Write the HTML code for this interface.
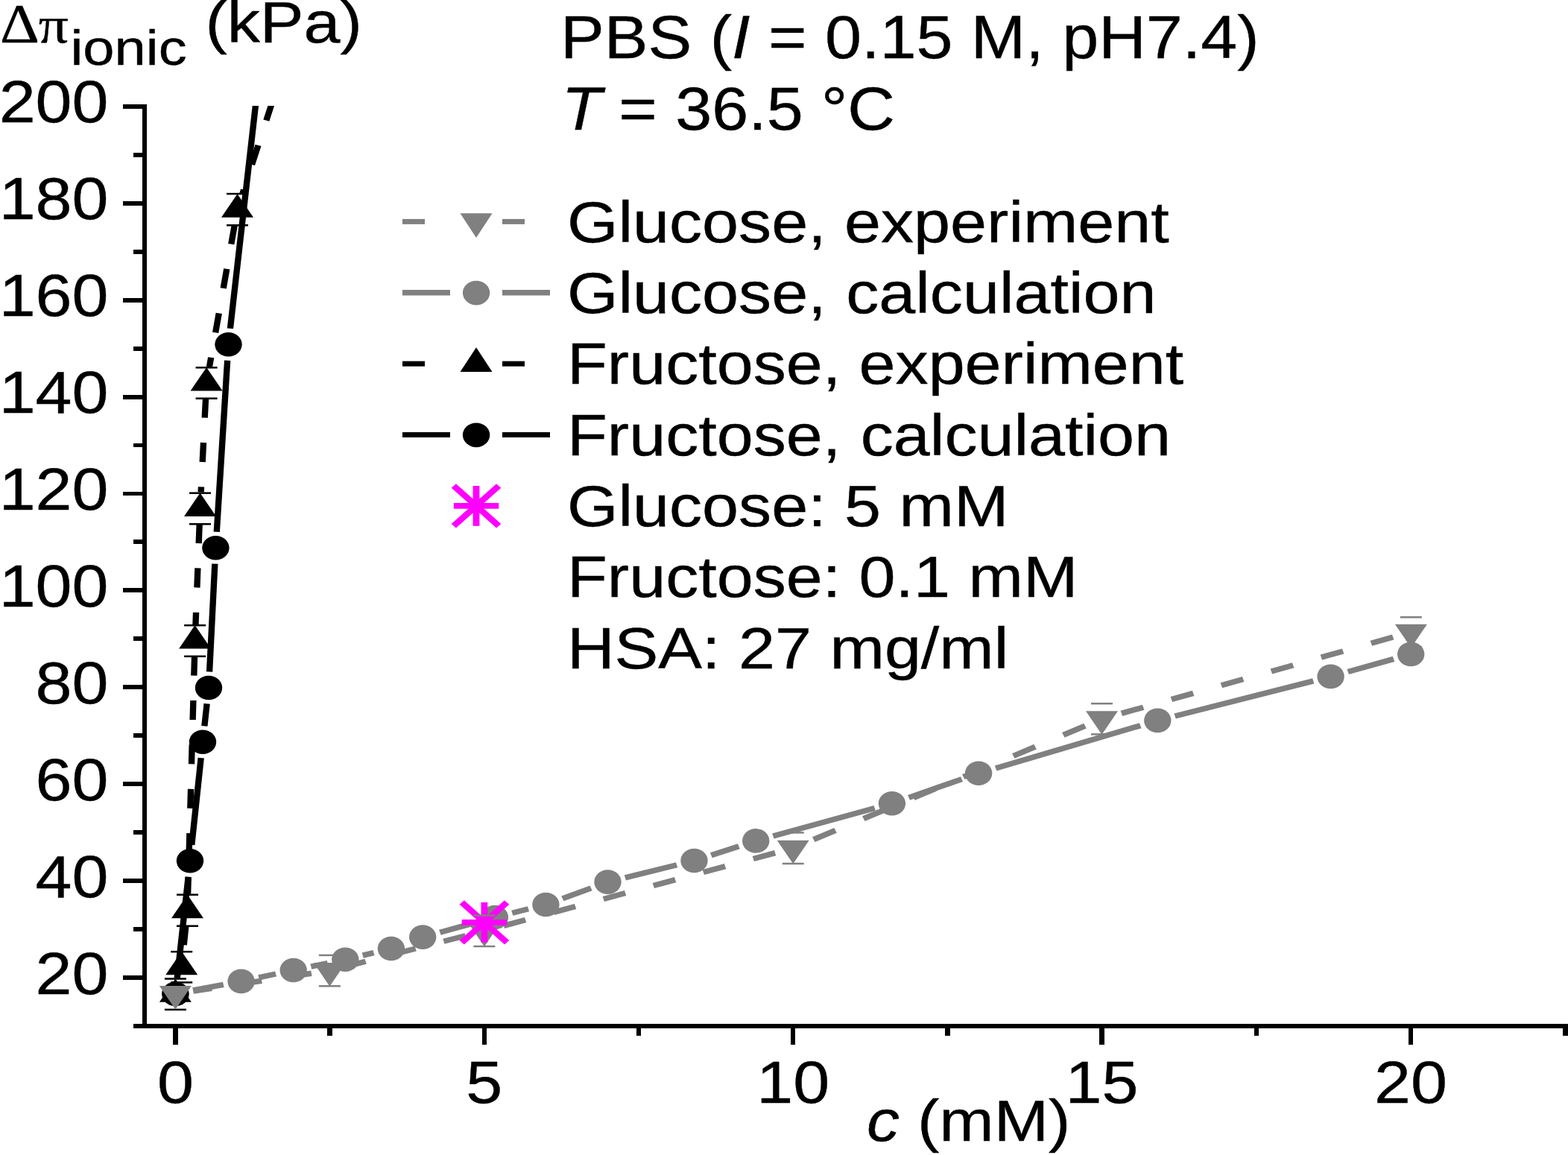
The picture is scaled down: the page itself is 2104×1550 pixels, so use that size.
<!DOCTYPE html>
<html lang="en"><head><meta charset="utf-8"><title>Figure</title>
<style>html,body{margin:0;padding:0;background:#fff;}body{width:2104px;height:1550px;overflow:hidden;}svg{display:block;}text{font-family:"Liberation Sans",sans-serif;fill:#000;stroke:#000;stroke-width:0.4px;stroke-linejoin:round;}.sym{font-family:"Liberation Serif",serif;stroke-width:0.4px;}.it{font-style:italic;}</style>
</head><body>
<svg width="2104" height="1550" viewBox="0 0 1865.248 1550" preserveAspectRatio="none">
<rect x="0" y="0" width="1865.248" height="1550" fill="#fff"/>
<defs><clipPath id="plot"><rect x="174.65" y="142" width="1690.60" height="1232"/></clipPath></defs>
<g clip-path="url(#plot)">
<line x1="229.72" y1="1328.96" x2="265.84" y2="1321.34" stroke="#808080" stroke-width="7.4"/>
<line x1="307.79" y1="1311.89" x2="328.12" y2="1307.01" stroke="#808080" stroke-width="7.4"/>
<line x1="369.97" y1="1297.15" x2="389.78" y2="1292.55" stroke="#808080" stroke-width="7.4"/>
<line x1="431.49" y1="1282.11" x2="444.58" y2="1278.59" stroke="#808080" stroke-width="7.4"/>
<line x1="523.37" y1="1251.23" x2="568.03" y2="1237.37" stroke="#808080" stroke-width="7.4"/>
<line x1="609.27" y1="1225.20" x2="628.59" y2="1219.80" stroke="#808080" stroke-width="7.4"/>
<line x1="669.17" y1="1205.80" x2="703.09" y2="1191.80" stroke="#808080" stroke-width="7.4"/>
<line x1="743.67" y1="1177.84" x2="805.08" y2="1160.76" stroke="#808080" stroke-width="7.4"/>
<line x1="846.01" y1="1147.67" x2="878.90" y2="1135.73" stroke="#808080" stroke-width="7.4"/>
<line x1="919.65" y1="1122.04" x2="1040.55" y2="1084.56" stroke="#808080" stroke-width="7.4"/>
<line x1="1081.10" y1="1070.35" x2="1144.08" y2="1045.65" stroke="#808080" stroke-width="7.4"/>
<line x1="1184.49" y1="1031.01" x2="1356.64" y2="973.69" stroke="#808080" stroke-width="7.4"/>
<line x1="1397.71" y1="960.98" x2="1562.31" y2="913.82" stroke="#808080" stroke-width="7.4"/>
<line x1="1603.49" y1="901.45" x2="1657.86" y2="884.35" stroke="#808080" stroke-width="7.4"/>
<ellipse cx="208.69" cy="1333.40" rx="16.13" ry="16.3" fill="#808080"/>
<ellipse cx="286.88" cy="1316.90" rx="16.13" ry="16.3" fill="#808080"/>
<ellipse cx="349.02" cy="1302.00" rx="16.13" ry="16.3" fill="#808080"/>
<ellipse cx="410.73" cy="1287.70" rx="16.13" ry="16.3" fill="#808080"/>
<ellipse cx="465.34" cy="1273.00" rx="16.13" ry="16.3" fill="#808080"/>
<ellipse cx="502.84" cy="1257.60" rx="16.13" ry="16.3" fill="#808080"/>
<ellipse cx="588.56" cy="1231.00" rx="16.13" ry="16.3" fill="#808080"/>
<ellipse cx="649.29" cy="1214.00" rx="16.13" ry="16.3" fill="#808080"/>
<ellipse cx="722.96" cy="1183.60" rx="16.13" ry="16.3" fill="#808080"/>
<ellipse cx="825.80" cy="1155.00" rx="16.13" ry="16.3" fill="#808080"/>
<ellipse cx="899.11" cy="1128.40" rx="16.13" ry="16.3" fill="#808080"/>
<ellipse cx="1061.08" cy="1078.20" rx="16.13" ry="16.3" fill="#808080"/>
<ellipse cx="1164.10" cy="1037.80" rx="16.13" ry="16.3" fill="#808080"/>
<ellipse cx="1377.04" cy="966.90" rx="16.13" ry="16.3" fill="#808080"/>
<ellipse cx="1582.98" cy="907.90" rx="16.13" ry="16.3" fill="#808080"/>
<ellipse cx="1678.37" cy="877.90" rx="16.13" ry="16.3" fill="#808080"/>
<line x1="210.77" y1="1312.60" x2="223.98" y2="1176.60" stroke="#000000" stroke-width="7.4"/>
<line x1="228.09" y1="1133.80" x2="239.11" y2="1017.20" stroke="#000000" stroke-width="7.4"/>
<line x1="243.22" y1="974.40" x2="246.14" y2="944.40" stroke="#000000" stroke-width="7.4"/>
<line x1="249.18" y1="901.52" x2="255.61" y2="756.68" stroke="#000000" stroke-width="7.4"/>
<line x1="257.75" y1="713.73" x2="270.53" y2="483.67" stroke="#000000" stroke-width="7.4"/>
<line x1="273.87" y1="440.81" x2="304.23" y2="139.39" stroke="#000000" stroke-width="7.4"/>
<ellipse cx="208.69" cy="1334.00" rx="16.13" ry="16.3" fill="#000000"/>
<ellipse cx="226.06" cy="1155.20" rx="16.13" ry="16.3" fill="#000000"/>
<ellipse cx="241.13" cy="995.80" rx="16.13" ry="16.3" fill="#000000"/>
<ellipse cx="248.23" cy="923.00" rx="16.13" ry="16.3" fill="#000000"/>
<ellipse cx="256.56" cy="735.20" rx="16.13" ry="16.3" fill="#000000"/>
<ellipse cx="271.72" cy="462.20" rx="16.13" ry="16.3" fill="#000000"/>
<line x1="195.83" y1="1313.50" x2="221.54" y2="1313.50" stroke="#000000" stroke-width="2.5"/>
<line x1="195.83" y1="1354.90" x2="221.54" y2="1354.90" stroke="#000000" stroke-width="2.5"/>
<line x1="203.19" y1="1277.20" x2="228.90" y2="1277.20" stroke="#000000" stroke-width="2.5"/>
<line x1="203.19" y1="1318.40" x2="228.90" y2="1318.40" stroke="#000000" stroke-width="2.5"/>
<line x1="210.11" y1="1200.70" x2="235.82" y2="1200.70" stroke="#000000" stroke-width="2.5"/>
<line x1="210.11" y1="1242.70" x2="235.82" y2="1242.70" stroke="#000000" stroke-width="2.5"/>
<line x1="219.06" y1="839.20" x2="244.77" y2="839.20" stroke="#000000" stroke-width="2.5"/>
<line x1="219.06" y1="880.80" x2="244.77" y2="880.80" stroke="#000000" stroke-width="2.5"/>
<line x1="225.18" y1="661.70" x2="250.89" y2="661.70" stroke="#000000" stroke-width="2.5"/>
<line x1="225.18" y1="703.30" x2="250.89" y2="703.30" stroke="#000000" stroke-width="2.5"/>
<line x1="232.80" y1="493.30" x2="258.51" y2="493.30" stroke="#000000" stroke-width="2.5"/>
<line x1="232.80" y1="534.70" x2="258.51" y2="534.70" stroke="#000000" stroke-width="2.5"/>
<line x1="269.50" y1="260.10" x2="295.21" y2="260.10" stroke="#000000" stroke-width="2.5"/>
<line x1="269.50" y1="302.30" x2="295.21" y2="302.30" stroke="#000000" stroke-width="2.5"/>
<line x1="221.10" y1="1242.22" x2="218.04" y2="1275.89" stroke="#000000" stroke-width="7.4" stroke-dasharray="26.11 33.54"/>
<line x1="231.41" y1="880.59" x2="223.51" y2="1199.71" stroke="#000000" stroke-width="7.4" stroke-dasharray="26.01 33.41"/>
<line x1="237.32" y1="703.09" x2="232.67" y2="838.01" stroke="#000000" stroke-width="7.4" stroke-dasharray="26.02 33.42"/>
<line x1="244.72" y1="534.58" x2="239.03" y2="660.52" stroke="#000000" stroke-width="7.4" stroke-dasharray="26.03 33.43"/>
<line x1="279.15" y1="301.55" x2="249.08" y2="492.27" stroke="#000000" stroke-width="7.4" stroke-dasharray="26.32 33.81"/>
<line x1="341.38" y1="76.20" x2="288.44" y2="260.06" stroke="#000000" stroke-width="7.4" stroke-dasharray="27.06 34.76"/>
<polygon points="208.69,1313.13 189.63,1344.73 227.75,1344.73" fill="#000000"/>
<polygon points="216.05,1276.73 196.99,1308.33 235.11,1308.33" fill="#000000"/>
<polygon points="222.96,1200.63 203.90,1232.23 242.02,1232.23" fill="#000000"/>
<polygon points="231.91,838.93 212.85,870.53 250.98,870.53" fill="#000000"/>
<polygon points="238.03,661.43 218.97,693.03 257.09,693.03" fill="#000000"/>
<polygon points="245.66,492.93 226.60,524.53 264.72,524.53" fill="#000000"/>
<polygon points="282.36,260.13 263.30,291.73 301.42,291.73" fill="#000000"/>
<line x1="229.89" y1="1330.02" x2="370.51" y2="1306.26" stroke="#808080" stroke-width="7.4" stroke-dasharray="26.37 33.87" stroke-dashoffset="4.00"/>
<line x1="412.85" y1="1296.62" x2="561.75" y2="1253.47" stroke="#808080" stroke-width="7.4" stroke-dasharray="27.07 34.77" stroke-dashoffset="4.00"/>
<line x1="599.12" y1="1242.35" x2="922.38" y2="1144.57" stroke="#808080" stroke-width="7.4" stroke-dasharray="27.16 34.89"/>
<line x1="967.86" y1="1126.67" x2="1290.83" y2="974.19" stroke="#808080" stroke-width="7.4" stroke-dasharray="28.75 36.94"/>
<line x1="1334.08" y1="957.40" x2="1657.57" y2="854.94" stroke="#808080" stroke-width="7.4" stroke-dasharray="27.27 35.04"/>
<polygon points="189.63,1323.07 227.75,1323.07 208.69,1354.67" fill="#808080"/>
<polygon points="373.14,1292.07 411.26,1292.07 392.20,1323.67" fill="#808080"/>
<polygon points="557.09,1238.77 595.21,1238.77 576.15,1270.37" fill="#808080"/>
<polygon points="924.38,1127.67 962.50,1127.67 943.44,1159.27" fill="#808080"/>
<polygon points="1291.67,954.27 1329.79,954.27 1310.73,985.87" fill="#808080"/>
<polygon points="1659.49,837.77 1697.61,837.77 1678.55,869.37" fill="#808080"/>
<g stroke="#ff00ff" stroke-width="7.8" fill="none">
<line x1="549.38" y1="1237.80" x2="602.93" y2="1237.80"/>
<line x1="576.15" y1="1210.90" x2="576.15" y2="1264.70"/>
<line x1="549.38" y1="1210.90" x2="602.93" y2="1264.70"/>
<line x1="549.38" y1="1264.70" x2="602.93" y2="1210.90"/>
</g>
<line x1="379.34" y1="1281.90" x2="405.05" y2="1281.90" stroke="#808080" stroke-width="2.5"/>
<line x1="379.34" y1="1323.30" x2="405.05" y2="1323.30" stroke="#808080" stroke-width="2.5"/>
<line x1="563.30" y1="1228.60" x2="589.01" y2="1228.60" stroke="#808080" stroke-width="2.5"/>
<line x1="563.30" y1="1270.00" x2="589.01" y2="1270.00" stroke="#808080" stroke-width="2.5"/>
<line x1="930.59" y1="1117.40" x2="956.29" y2="1117.40" stroke="#808080" stroke-width="2.5"/>
<line x1="930.59" y1="1159.00" x2="956.29" y2="1159.00" stroke="#808080" stroke-width="2.5"/>
<line x1="1297.87" y1="944.20" x2="1323.58" y2="944.20" stroke="#808080" stroke-width="2.5"/>
<line x1="1297.87" y1="985.40" x2="1323.58" y2="985.40" stroke="#808080" stroke-width="2.5"/>
<line x1="1665.69" y1="828.30" x2="1691.40" y2="828.30" stroke="#808080" stroke-width="2.5"/>
<line x1="1665.69" y1="868.30" x2="1691.40" y2="868.30" stroke="#808080" stroke-width="2.5"/>
</g>
<g stroke="#000" stroke-width="5.8" fill="none" shape-rendering="crispEdges">
<line x1="171.99" y1="140.2" x2="171.99" y2="1380"/>
<line x1="158.69" y1="1377" x2="1865.25" y2="1377"/>
<line x1="146.28" y1="1311.66" x2="171.99" y2="1311.66"/>
<line x1="146.28" y1="1181.82" x2="171.99" y2="1181.82"/>
<line x1="146.28" y1="1051.98" x2="171.99" y2="1051.98"/>
<line x1="146.28" y1="922.14" x2="171.99" y2="922.14"/>
<line x1="146.28" y1="792.30" x2="171.99" y2="792.30"/>
<line x1="146.28" y1="662.46" x2="171.99" y2="662.46"/>
<line x1="146.28" y1="532.62" x2="171.99" y2="532.62"/>
<line x1="146.28" y1="402.78" x2="171.99" y2="402.78"/>
<line x1="146.28" y1="272.94" x2="171.99" y2="272.94"/>
<line x1="146.28" y1="143.10" x2="171.99" y2="143.10"/>
<line x1="158.69" y1="1246.74" x2="171.99" y2="1246.74"/>
<line x1="158.69" y1="1116.90" x2="171.99" y2="1116.90"/>
<line x1="158.69" y1="987.06" x2="171.99" y2="987.06"/>
<line x1="158.69" y1="857.22" x2="171.99" y2="857.22"/>
<line x1="158.69" y1="727.38" x2="171.99" y2="727.38"/>
<line x1="158.69" y1="597.54" x2="171.99" y2="597.54"/>
<line x1="158.69" y1="467.70" x2="171.99" y2="467.70"/>
<line x1="158.69" y1="337.86" x2="171.99" y2="337.86"/>
<line x1="158.69" y1="208.02" x2="171.99" y2="208.02"/>
<line x1="208.69" y1="1377" x2="208.69" y2="1402"/>
<line x1="576.06" y1="1377" x2="576.06" y2="1402"/>
<line x1="943.44" y1="1377" x2="943.44" y2="1402"/>
<line x1="1310.82" y1="1377" x2="1310.82" y2="1402"/>
<line x1="1678.19" y1="1377" x2="1678.19" y2="1402"/>
<line x1="392.38" y1="1377" x2="392.38" y2="1389.5"/>
<line x1="759.75" y1="1377" x2="759.75" y2="1389.5"/>
<line x1="1127.13" y1="1377" x2="1127.13" y2="1389.5"/>
<line x1="1494.50" y1="1377" x2="1494.50" y2="1389.5"/>
<rect x="1859.04" y="1374" width="6.21" height="15.6" fill="#000" stroke="none"/>
</g>
<g font-size="78.1">
<text transform="translate(129.08,1334.06) scale(0.9709,1)" font-size="80.44" text-anchor="end">20</text>
<text transform="translate(129.08,1204.01) scale(0.9709,1)" font-size="80.44" text-anchor="end">40</text>
<text transform="translate(129.08,1073.96) scale(0.9709,1)" font-size="80.44" text-anchor="end">60</text>
<text transform="translate(129.08,943.91) scale(0.9709,1)" font-size="80.44" text-anchor="end">80</text>
<text transform="translate(129.08,813.86) scale(0.9709,1)" font-size="80.44" text-anchor="end">100</text>
<text transform="translate(129.08,683.80) scale(0.9709,1)" font-size="80.44" text-anchor="end">120</text>
<text transform="translate(129.08,553.75) scale(0.9709,1)" font-size="80.44" text-anchor="end">140</text>
<text transform="translate(129.08,423.70) scale(0.9709,1)" font-size="80.44" text-anchor="end">160</text>
<text transform="translate(129.08,293.65) scale(0.9709,1)" font-size="80.44" text-anchor="end">180</text>
<text transform="translate(129.08,163.60) scale(0.9709,1)" font-size="80.44" text-anchor="end">200</text>
<text transform="translate(208.69,1479.6) scale(0.9709,1)" font-size="80.44" text-anchor="middle">0</text>
<text transform="translate(576.06,1479.6) scale(0.9709,1)" font-size="80.44" text-anchor="middle">5</text>
<text transform="translate(943.44,1479.6) scale(0.9709,1)" font-size="80.44" text-anchor="middle">10</text>
<text transform="translate(1310.82,1479.6) scale(0.9709,1)" font-size="80.44" text-anchor="middle">15</text>
<text transform="translate(1678.19,1479.6) scale(0.9709,1)" font-size="80.44" text-anchor="middle">20</text>
<text x="1031.03" y="1530.8"><tspan class="it">c</tspan><tspan x="1069.59"> (mM)</tspan></text>
<text y="57.0"><tspan class="sym" x="0.00" font-size="73">Δ</tspan><tspan class="sym" x="45.92" font-size="70.5">π</tspan><tspan x="83.78" y="86.8" font-size="67.3">ionic</tspan><tspan x="222.54" y="56.6"> (kPa)</tspan></text>
<text transform="translate(666.67,77.5) scale(0.9662,1)" font-size="80.83">PBS (<tspan class="it">I</tspan> = 0.15 M, pH7.4)</text>
<text transform="translate(668.00,173.8) scale(0.9662,1)" font-size="80.83"><tspan class="it">T</tspan><tspan x="48.01"> = 36.5 °C</tspan></text>
<text x="674.65" y="324.70">Glucose, experiment</text>
<text x="674.65" y="420.05">Glucose,<tspan dx="1.95"> calculation</tspan></text>
<text x="674.65" y="515.40">Fructose, experiment</text>
<text x="674.65" y="610.75">Fructose,<tspan dx="1.95"> calculation</tspan></text>
<text x="674.65" y="706.10">Glucose: 5 mM</text>
<text x="674.65" y="801.45">Fructose: 0.1 mM</text>
<text x="674.65" y="896.80">HSA: 27 mg/ml</text>
</g>
<g>
<line x1="478.72" y1="297.40" x2="505.32" y2="297.40" stroke="#808080" stroke-width="7.0"/>
<line x1="478.72" y1="488.16" x2="505.32" y2="488.16" stroke="#000000" stroke-width="7.0"/>
<line x1="597.52" y1="297.40" x2="624.11" y2="297.40" stroke="#808080" stroke-width="7.0"/>
<line x1="597.52" y1="488.16" x2="624.11" y2="488.16" stroke="#000000" stroke-width="7.0"/>
<line x1="478.72" y1="392.78" x2="535.46" y2="392.78" stroke="#808080" stroke-width="7.6"/>
<line x1="478.72" y1="583.54" x2="535.46" y2="583.54" stroke="#000000" stroke-width="7.0"/>
<line x1="597.52" y1="392.78" x2="654.26" y2="392.78" stroke="#808080" stroke-width="7.6"/>
<line x1="597.52" y1="583.54" x2="654.26" y2="583.54" stroke="#000000" stroke-width="7.0"/>
<polygon points="547.43,286.17 585.55,286.17 566.49,318.97" fill="#808080"/>
<ellipse cx="566.58" cy="393.08" rx="16.13" ry="16.3" fill="#808080"/>
<polygon points="566.49,466.29 547.43,499.09 585.55,499.09" fill="#000000"/>
<ellipse cx="566.58" cy="583.84" rx="16.13" ry="16.3" fill="#000000"/>
<g stroke="#ff00ff" stroke-width="7.8" fill="none">
<line x1="539.72" y1="678.92" x2="593.26" y2="678.92"/>
<line x1="566.49" y1="652.02" x2="566.49" y2="705.82"/>
<line x1="539.72" y1="652.02" x2="593.26" y2="705.82"/>
<line x1="539.72" y1="705.82" x2="593.26" y2="652.02"/>
</g>
</g>
</svg></body></html>
